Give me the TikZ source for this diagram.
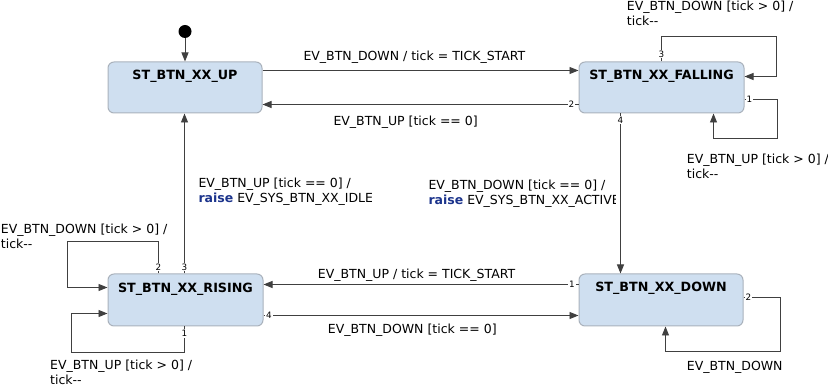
\documentclass[tikz,border=0pt]{standalone}
\usepackage{fontspec}
\setmainfont{DejaVu Sans}
\usetikzlibrary{arrows.meta}
\definecolor{boxfill}{RGB}{207,223,240}
\definecolor{boxline}{RGB}{170,178,188}
\definecolor{wire}{RGB}{64,64,64}
\definecolor{kw}{RGB}{28,52,140}
\tikzset{
  stbox/.style={draw=boxline, fill=boxfill, line width=1pt, rounded corners=6pt, inner sep=0pt},
  sttitle/.style={font=\bfseries\fontsize{12.7}{15}\selectfont, anchor=base, inner sep=0pt},
  tr/.style={draw=wire, line width=0.9pt, -{Triangle[length=9pt,width=7pt]}},
  num/.style={font=\fontsize{8.8}{10}\selectfont, fill=white, inner sep=0.8pt, text=black},
  lbl/.style={font=\fontsize{12.5}{15}\selectfont, anchor=base west, align=left, inner sep=0pt},
  initdot/.style={circle, fill=black, minimum size=13pt, inner sep=0pt},
}
\begin{document}
\begin{tikzpicture}[x=1pt,y=-1pt]
\useasboundingbox (0,0) rectangle (828,387);
% states
\node[stbox, minimum width=154pt, minimum height=51pt] (up)   at (185,87.5) {};
\node[stbox, minimum width=165pt, minimum height=51pt] (fall) at (661.5,87.5) {};
\node[stbox, minimum width=155pt, minimum height=52pt] (rise) at (185.5,300) {};
\node[stbox, minimum width=164pt, minimum height=52pt] (down) at (661,300) {};
\node[sttitle] (tup)   at ([yshift=-18pt]up.north)   {ST\_BTN\_XX\_UP};
\node[sttitle] (tfall) at ([yshift=-18pt]fall.north) {ST\_BTN\_XX\_FALLING};
\node[sttitle] (trise) at ([yshift=-19pt]rise.north) {ST\_BTN\_XX\_RISING};
\node[sttitle] (tdown) at ([yshift=-18pt]down.north) {ST\_BTN\_XX\_DOWN};
% initial
\node[initdot] (init) at (185,31.5) {};
\draw[tr] (init) -- (up.north);
% UP <-> FALLING
\draw[tr] ([yshift=-9pt]up.north east) -- ([yshift=-9pt]fall.north west);
\draw[tr] ([yshift=-43pt]fall.north west) -- node[num, at start, xshift=-7pt]{2} ([yshift=-43pt]up.north east);
% FALLING loops
\draw[tr] ([xshift=83pt]fall.north west) -- node[num, at start, yshift=7.5pt]{3} ++(0,-25) -- ++(115,0) |- ([yshift=-15pt]fall.north east);
\draw[tr] ([yshift=-38pt]fall.north east) -- node[num, at start, xshift=5pt]{1} ++(33,0) -- ++(0,39) -| ([xshift=135pt]fall.south west);
% FALLING -> DOWN
\draw[tr] ([xshift=42pt]fall.south west) -- node[num, at start, yshift=-6.5pt]{4} ([xshift=42pt]down.north west);
% RISING -> UP
\draw[tr] ([xshift=77pt]rise.north west) -- node[num, at start, yshift=6.5pt]{3} ([xshift=77pt]up.south west);
% RISING loops
\draw[tr] ([xshift=51pt]rise.north west) -- node[num, at start, yshift=6.5pt]{2} ++(0,-32) -- ++(-91,0) |- ([yshift=-14pt]rise.north west);
\draw[tr] ([xshift=77pt]rise.south west) -- node[num, at start, yshift=-7pt]{1} ++(0,26) -- ++(-113,0) |- ([yshift=-40pt]rise.north west);
% DOWN <-> RISING
\draw[tr] ([yshift=-11pt]down.north west) -- node[num, at start, xshift=-6.5pt]{1} ([yshift=-11pt]rise.north east);
\draw[tr] ([yshift=-42pt]rise.north east) -- node[num, at start, xshift=5.5pt]{4} ([yshift=-42pt]down.north west);
% DOWN loop
\draw[tr] ([yshift=-24pt]down.north east) -- node[num, at start, xshift=5pt]{2} ++(37,0) -- ++(0,54) -| ([xshift=87pt]down.south west);
% labels (base = last line)
\node[lbl] (l1) at (303.3,60.7) {EV\_BTN\_DOWN / tick = TICK\_START};
\node[lbl] (l2) at (333.3,126) {EV\_BTN\_UP [tick == 0]};
\node[lbl] (l3) at (626.7,25.7) {EV\_BTN\_DOWN [tick > 0] /\\tick{-}{-}};
\node[lbl] (l4) at (686.7,178.3) {EV\_BTN\_UP [tick > 0] /\\tick{-}{-}};
\begin{scope}
\clip (190,165) rectangle (371,215);
\node[lbl] (l5) at (198.3,203) {EV\_BTN\_UP [tick == 0] /\\{\bfseries\color{kw}raise} EV\_SYS\_BTN\_XX\_IDLE};
\end{scope}
\begin{scope}
\clip (420,165) rectangle (615.5,215);
\node[lbl] (l6) at (428.3,205) {EV\_BTN\_DOWN [tick == 0] /\\{\bfseries\color{kw}raise} EV\_SYS\_BTN\_XX\_ACTIVE};
\end{scope}
\node[lbl] (l7) at (0.7,248.3) {EV\_BTN\_DOWN [tick > 0] /\\tick{-}{-}};
\node[lbl] (l8) at (50,384.8) {EV\_BTN\_UP [tick > 0] /\\tick{-}{-}};
\node[lbl] (l9) at (317.7,278.3) {EV\_BTN\_UP / tick = TICK\_START};
\node[lbl] (l10) at (327.7,334) {EV\_BTN\_DOWN [tick == 0]};
\node[lbl] (l11) at (686.7,371) {EV\_BTN\_DOWN};
\end{tikzpicture}
\end{document}
